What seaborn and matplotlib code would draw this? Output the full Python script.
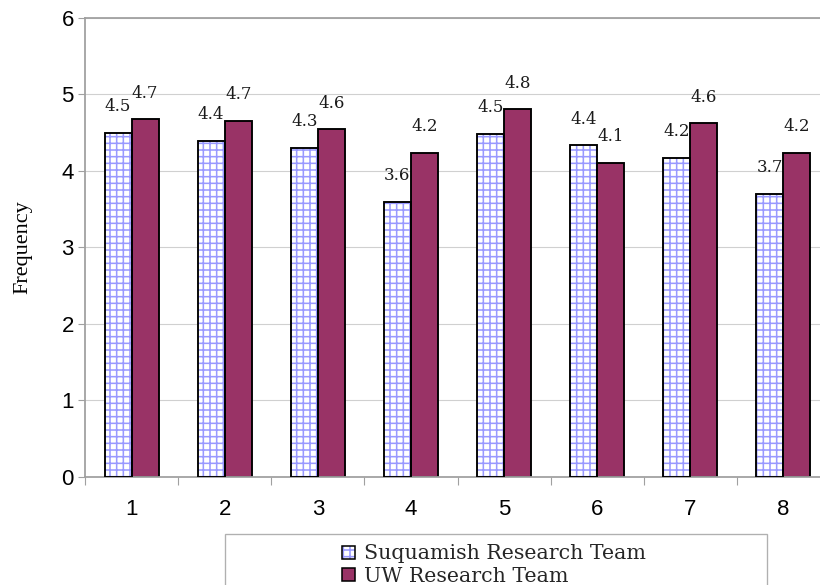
import pandas as pd
import matplotlib
matplotlib.use("Agg")
import matplotlib.pyplot as plt
from matplotlib.patches import Patch, Rectangle
from matplotlib.legend_handler import HandlerTuple
import seaborn as sns

# 数据
categories = ["1", "2", "3", "4", "5", "6", "7", "8"]
suquamish = [4.49, 4.39, 4.30, 3.59, 4.48, 4.33, 4.17, 3.70]
uw = [4.67, 4.65, 4.54, 4.23, 4.80, 4.10, 4.62, 4.23]
suquamish_labels = ["4.5", "4.4", "4.3", "3.6", "4.5", "4.4", "4.2", "3.7"]
uw_labels = ["4.7", "4.7", "4.6", "4.2", "4.8", "4.1", "4.6", "4.2"]
teams = ["Suquamish Research Team", "UW Research Team"]
y_ticks = [0, 1, 2, 3, 4, 5, 6]

df = pd.DataFrame({
    "category": categories * 2,
    "team": [teams[0]] * len(categories) + [teams[1]] * len(categories),
    "value": suquamish + uw,
})

sns.set_style("white")
plt.rcParams["hatch.linewidth"] = 1.4

DPI = 80
fig = plt.figure(figsize=(820 / DPI, 585 / DPI), dpi=DPI)
ax = fig.add_axes([85 / 820, 108 / 585, 745 / 820, 459.5 / 585])

sns.barplot(data=df, x="category", y="value", hue="team", order=categories,
            hue_order=teams, palette=["white", "#993366"], saturation=1,
            width=0.58, errorbar=None, legend=False, ax=ax)

# 网格图案 + 黑色边框
hatch_col = "#9999ff"
for bar in ax.containers[0]:
    bar.set_hatch("++")
    bar.set_edgecolor(hatch_col)
    bar.set_linewidth(0)
    x, y = bar.get_xy()
    ax.add_patch(Rectangle((x, y), bar.get_width(), bar.get_height(),
                           fill=False, edgecolor="black", linewidth=1.7, zorder=3))
for bar in ax.containers[1]:
    bar.set_edgecolor("black")
    bar.set_linewidth(1.7)

# 数值标签
for cont, labels in zip(ax.containers, [suquamish_labels, uw_labels]):
    for bar, lab in zip(cont, labels):
        ax.annotate(lab, (bar.get_x() + bar.get_width() / 2, bar.get_height()),
                    xytext=(0, 19.5), textcoords="offset points",
                    ha="center", va="baseline", fontsize=15,
                    family="DejaVu Serif", color="#1a1a1a")

ax.set_xlim(-0.5, len(categories) - 0.5)
ax.set_ylim(0, 6)
ax.set_yticks(y_ticks)
ax.yaxis.grid(True, color="#d0d0d0", linewidth=1.0)
ax.set_axisbelow(True)
ax.tick_params(axis="y", left=True, length=6, width=1, color="#a0a0a0",
               labelsize=20, pad=4, labelcolor="black")
ax.set_xticks(range(len(categories)))
ax.set_xticks([i + 0.5 for i in range(-1, len(categories))], minor=True)
ax.tick_params(axis="x", which="major", length=0, labelsize=20, pad=20,
               labelcolor="black")
ax.tick_params(axis="x", which="minor", bottom=True, length=7, width=1,
               color="#a0a0a0")
for lab in ax.get_xticklabels() + ax.get_yticklabels():
    lab.set_family("Liberation Sans")

for side in ["left", "bottom", "top"]:
    ax.spines[side].set_color("#a0a0a0")
    ax.spines[side].set_linewidth(1.6)
ax.spines["right"].set_visible(False)

ax.set_xlabel("")
ax.set_ylabel("Frequency", family="Liberation Serif", fontsize=20,
              labelpad=26, color="black")

# 图例
fig.patches.append(Rectangle((225 / 820, -0.05), 542 / 820, 0.05 + 51 / 585,
                             transform=fig.transFigure, fill=False,
                             edgecolor="#b0b0b0", linewidth=1.2))
h1 = (Patch(facecolor="white", edgecolor=hatch_col, hatch="++", linewidth=0),
      Patch(facecolor="none", edgecolor="black", linewidth=1.4))
h2 = Patch(facecolor="#993366", edgecolor="black", linewidth=1.4)
fig.legend([h1, h2], teams, handler_map={tuple: HandlerTuple(ndivide=1)},
           loc="upper left", bbox_to_anchor=(328 / 820, 1 - 530 / 585),
           frameon=False, prop={"family": "DejaVu Serif", "size": 18.5},
           handlelength=0.6, handleheight=0.6, handletextpad=0.45,
           labelspacing=0.18, borderpad=0.2)

fig.savefig("out.png", dpi=DPI)
